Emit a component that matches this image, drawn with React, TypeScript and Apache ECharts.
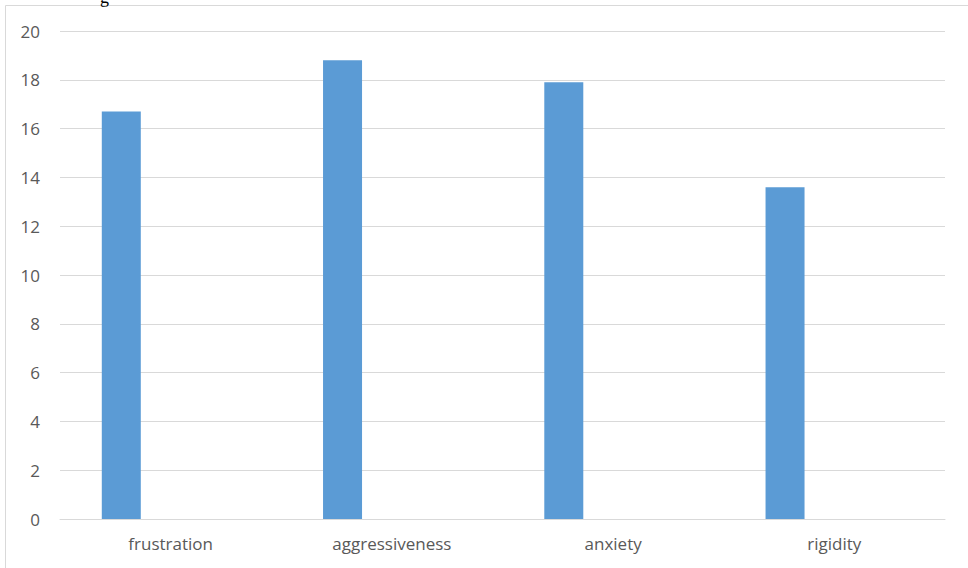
import React, { useEffect, useRef } from "react";
import * as echarts from "echarts";

const categories = ["frustration", "aggressiveness", "anxiety", "rigidity"];
const seriesValues = [16.7, 18.8, 17.9, 13.6];
const emptySeries: (number | null)[] = [null, null, null, null];
const yTicks = { min: 0, max: 20, interval: 2 };

export default function App() {
  const ref = useRef<HTMLDivElement>(null);
  useEffect(() => {
    if (!ref.current) return;
    const chart = echarts.init(ref.current, null, { renderer: "svg" });
    const font = "'Open Sans', 'Liberation Sans', sans-serif";
    chart.setOption({
      animation: false,
      backgroundColor: "#ffffff",
      grid: { left: 60, right: 23, top: 31, bottom: 49 },
      graphic: [
        {
          type: "rect",
          shape: { x: 5.5, y: 5.5, width: 970, height: 580 },
          style: { fill: "none", stroke: "#d9d9d9", lineWidth: 1 },
          silent: true,
          z: -1,
        },
        {
          type: "text",
          x: 100,
          y: -12,
          style: { text: "g", font: "18px 'Liberation Serif', serif", fill: "#000" },
          silent: true,
        },
      ],
      xAxis: {
        type: "category",
        data: categories,
        axisLine: { show: true, lineStyle: { color: "#d9d9d9", width: 1 } },
        axisTick: { show: false },
        axisLabel: { color: "#595959", fontSize: 17, fontFamily: font, margin: 16 },
      },
      yAxis: {
        type: "value",
        min: yTicks.min,
        max: yTicks.max,
        interval: yTicks.interval,
        axisLine: { show: false },
        axisTick: { show: false },
        splitLine: { lineStyle: { color: "#d9d9d9", width: 1 } },
        axisLabel: { color: "#595959", fontSize: 17, fontFamily: font, margin: 20 },
      },
      series: [
        {
          type: "bar",
          name: "Series 1",
          data: seriesValues,
          barWidth: 39,
          barGap: "153%",
          itemStyle: { color: "#5b9bd5" },
        },
        {
          type: "bar",
          name: "Series 2",
          data: emptySeries,
          barWidth: 39,
          itemStyle: { color: "#ed7d31" },
        },
      ],
    });
    return () => chart.dispose();
  }, []);
  return (
    <div
      ref={ref}
      style={{ position: "fixed", left: 0, top: 0, width: 968, height: 568 }}
    />
  );
}
